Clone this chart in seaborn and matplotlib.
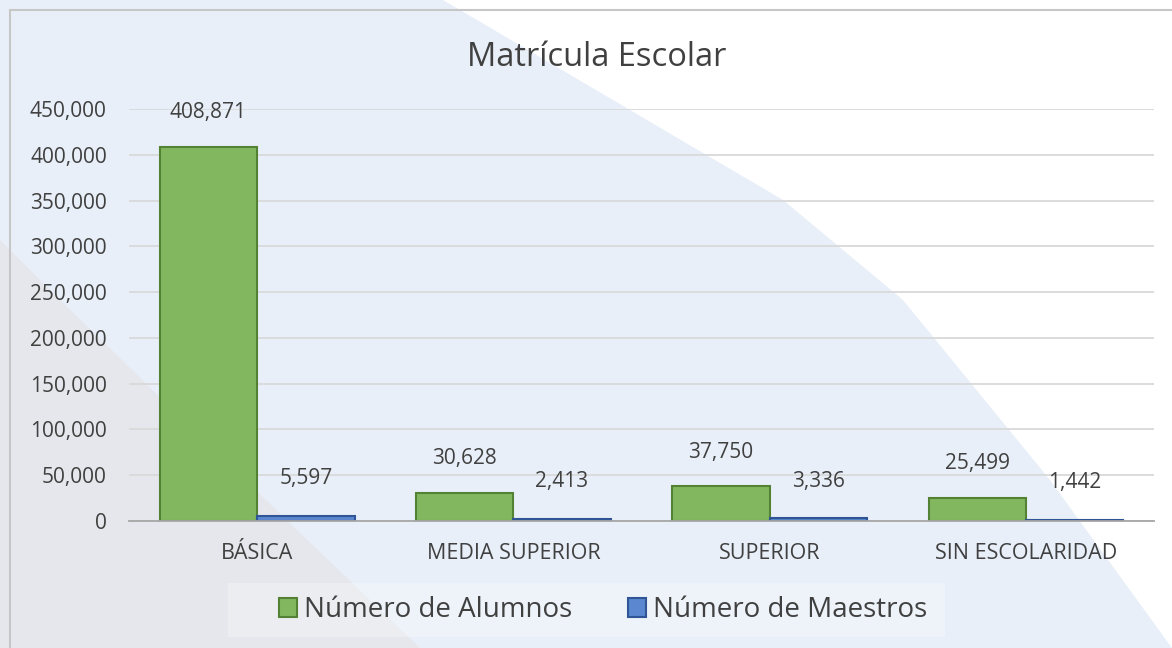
import pandas as pd
import matplotlib.pyplot as plt
import matplotlib.patches as mpatches
from matplotlib.ticker import FuncFormatter
import seaborn as sns

niveles = ['BÁSICA', 'MEDIA SUPERIOR', 'SUPERIOR', 'SIN ESCOLARIDAD']
alumnos = [408871, 30628, 37750, 25499]
maestros = [5597, 2413, 3336, 1442]
series = ['Número de Alumnos', 'Número de Maestros']

colores = ['#82b75f', '#5a87cf']
bordes = ['#548235', '#2f5597']

df = pd.DataFrame({
    'nivel': niveles * 2,
    'serie': [series[0]] * 4 + [series[1]] * 4,
    'valor': alumnos + maestros,
})

sns.set_theme(style='white')
plt.rcParams['font.family'] = ['Open Sans', 'DejaVu Sans']

W, H = 1172, 648
fig = plt.figure(figsize=(W / 100, H / 100), dpi=100)
fig.patch.set_facecolor('#e8eff8')

def px(pts):
    return [(x / W, 1 - y / H) for x, y in pts]

# background shapes
fig.patches.append(mpatches.Polygon(
    px([(443, 0), (783, 200), (903, 300), (1050, 480), (1172, 648), (1172, 0)]),
    closed=True, transform=fig.transFigure, facecolor='white', edgecolor='none', zorder=-3))
fig.patches.append(mpatches.Polygon(
    px([(0, 240), (60, 300), (300, 533), (420, 648), (0, 648)]),
    closed=True, transform=fig.transFigure, facecolor='#e6e7ec', edgecolor='none', zorder=-2))
fig.patches.append(mpatches.Rectangle(
    (10 / W, -0.1), 1.2, 1 - 10 / H + 0.1, transform=fig.transFigure,
    facecolor='none', edgecolor='#c6c6c6', lw=1.5, zorder=-1))
fig.patches.append(mpatches.Rectangle(
    (228 / W, 1 - 637 / H), (945 - 228) / W, (637 - 583) / H, transform=fig.transFigure,
    facecolor='white', alpha=0.25, edgecolor='none', zorder=-1))

ax = fig.add_axes([129 / W, 1 - 521 / H, (1154 - 129) / W, (521 - 109) / H])
ax.set_facecolor('none')

sns.barplot(data=df, x='nivel', y='valor', hue='serie', order=niveles,
            hue_order=series, palette=colores, width=0.76, ax=ax,
            saturation=1, legend=False, zorder=3)

for cont, ec, pad in zip(ax.containers, bordes, [17, 19]):
    for bar in cont:
        bar.set_edgecolor(ec)
        bar.set_linewidth(1.5)
    ax.bar_label(cont, labels=[f'{v:,.0f}' for v in cont.datavalues],
                 padding=pad, fontsize=15, color='#404040')

ax.set_ylim(0, 450000)
ax.set_xlim(-0.5, 3.5)
ax.set_yticks(range(0, 450001, 50000))
ax.yaxis.set_major_formatter(FuncFormatter(lambda v, p: f'{v:,.0f}'))
ax.grid(axis='y', color='#d9d9d9', lw=1.3, zorder=0)
ax.set_axisbelow(True)
for s in ['top', 'right', 'left']:
    ax.spines[s].set_visible(False)
ax.spines['bottom'].set_color('#a6a6a6')
ax.spines['bottom'].set_linewidth(1.3)
ax.spines['bottom'].set_zorder(4)
ax.tick_params(axis='y', length=0, pad=16, labelsize=15, labelcolor='#404040')
ax.tick_params(axis='x', length=0, pad=16, labelsize=15.5, labelcolor='#404040')
ax.set_xlabel('')
ax.set_ylabel('')

fig.text(597 / W, 1 - 57 / H, 'Matrícula Escolar', ha='center', va='center',
         fontsize=23.5, color='#404040')

handles = [mpatches.Patch(facecolor=c, edgecolor=e, lw=1.5) for c, e in zip(colores, bordes)]
fig.legend(handles, series, loc='center', bbox_to_anchor=(603 / W, 1 - 610 / H),
           ncol=2, frameon=False, fontsize=20, handlelength=0.65, handleheight=0.7,
           handletextpad=0.25, columnspacing=2.0, labelcolor='#404040')

fig.savefig('out.png', dpi=100, facecolor=fig.get_facecolor())
